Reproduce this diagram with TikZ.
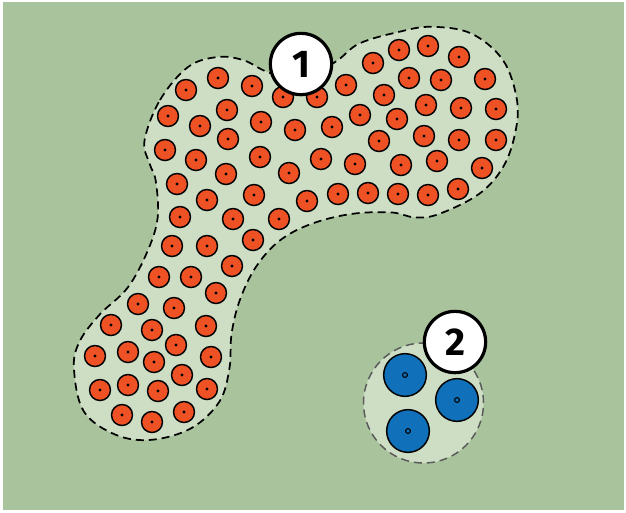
\documentclass[tikz,border=0pt]{standalone}
\usepackage{fontspec}
\setmainfont{Fira Sans}
\definecolor{field}{RGB}{169,196,157}
\definecolor{patch}{RGB}{205,222,197}
\definecolor{cellred}{RGB}{238,82,36}
\definecolor{cellblue}{RGB}{16,112,185}
\definecolor{rimgray}{RGB}{90,90,90}

\begin{document}
\begin{tikzpicture}[x=0.75pt,y=0.75pt,yscale=-1,xscale=1,
  redcell/.style={circle,draw=black,line width=1.1pt,fill=cellred,minimum size=15.75pt,inner sep=0pt},
  bluecell/.style={circle,draw=black,line width=1.1pt,fill=cellblue,minimum size=32pt,inner sep=0pt},
  tag/.style={circle,draw=black,line width=2.4pt,fill=white,minimum size=46pt,inner sep=0pt,font=\fontsize{29}{30}\selectfont\bfseries},
  blobline/.style={draw=black,line width=1.3pt,fill=patch,dash pattern={on 6pt off 3.75pt}}]
\useasboundingbox (0,0) rectangle (626,512);
\fill[field] (3,2) rectangle (624,510);

%Shape: patch of group 1
\path[blobline] plot[smooth cycle,tension=0.6] coordinates {
  (144.5,140.5) (160,100) (188,67) (217.6,57) (243.5,60.2) (267.5,72)
  (300,80) (335.3,61.9) (359.3,43.5) (399.2,31.8) (431.1,26.8) (471,33.4)
  (503,60.2) (517,100.3) (515,133.8) (503,167.2) (479,194) (439,214)
  (415,217.4) (391,212.4) (351,214) (311,224) (279.4,240.8) (255.5,267.6)
  (239.5,301) (231.5,334.4) (229.5,368) (219.6,401.3) (191.6,428)
  (151.7,439.8) (115.8,434.8) (83.8,411.4) (73.9,368) (79.8,341.1)
  (99.8,314.4) (127.7,287.6) (147.7,250.8) (157.7,217.4) (155.7,180.6)
  (149.7,163.9)};

%Shape: patch of group 2
\node[circle,draw=rimgray,line width=1.1pt,fill=patch,dash pattern={on 6pt off 3.75pt},minimum size=90pt,inner sep=0pt] (group2) at (423.5,403) {};

% red cells
\foreach \px/\py [count=\n] in {399/50,428/46,459/57,373/63,409/78,441/80,485/79,
  346/85,384/95,426/105,461/108,496/109,397/119,424/136,459/140,496/140,379/141,
  437/161,401/165,482/168,458/189,428/195,398/194,368/193,338/194,307/201,
  355/164,321/159,332/127,360/115,295/130,289/173,260/157,261/122,252/86,
  283/97,317/97,218/78,186/90,227/110,168/116,200/126,228/139,165/150,196/160,
  226/174,177/184,207/200,254/195,233/219,279/219,180/217,172/246,207/246,
  253/240,232/266,159/277,191/277,216/293,138/304,174/308,206/326,111/325,
  152/330,176/345,95/356,128/352,154/362,211/357,182/375,100/390,128/385,
  158/391,207/389,122/415,152/422,184/412} {
  \node[redcell] (red\n) at (\px,\py) {};
  \fill (red\n.center) circle (1.3pt);
}

% blue cells
\foreach \px/\py [count=\n] in {405/375,457/400,408/431} {
  \node[bluecell] (blue\n) at (\px,\py) {};
  \draw[line width=0.8pt] (blue\n.center) circle (1.8pt);
}

% Text Node
\node[tag] (tag1) at (301,64) {1};
% Text Node
\node[tag] (tag2) at (455,342) {2};

\end{tikzpicture}
\end{document}
